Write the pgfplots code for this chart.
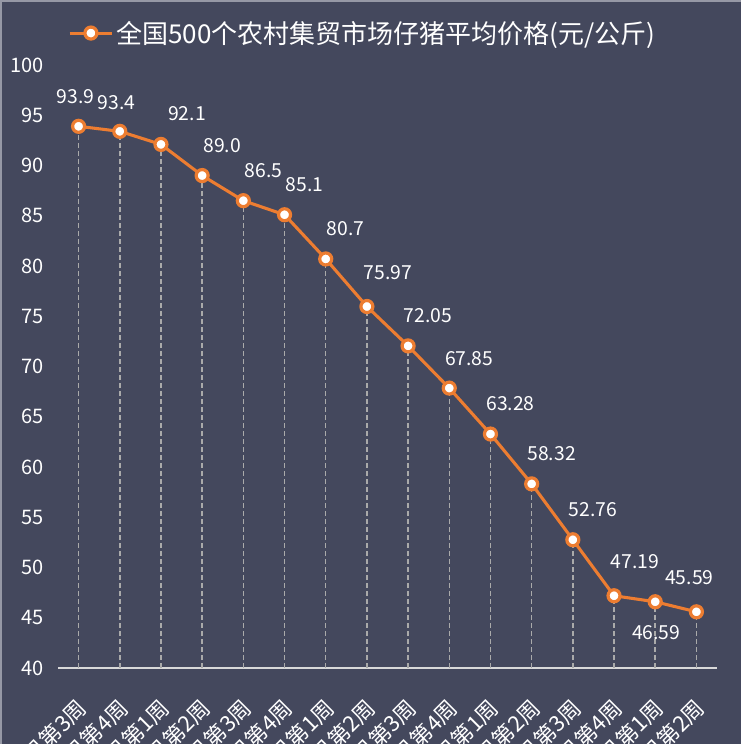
\documentclass[border=0pt]{standalone}
\usepackage{fontspec}
\setmainfont{Noto Sans CJK SC}
\usepackage{pgfplots}
\pgfplotsset{compat=1.18}

\definecolor{bg}{RGB}{68,72,93}
\definecolor{pork}{RGB}{237,125,49}
\definecolor{dropgray}{RGB}{170,170,170}
\definecolor{axisgray}{RGB}{217,217,217}
\definecolor{edge}{RGB}{150,152,165}

\begin{document}
\begin{tikzpicture}
\fill[bg] (0,0) rectangle (555.75pt,558pt);
\path[use as bounding box] (0,0) rectangle (555.75pt,558pt);
\begin{axis}[%
  at={(43.5pt,57pt)}, anchor=south west,
  scale only axis,
  width=494.25pt, height=452.25pt,
  % x-axis
  xmin=-0.5, xmax=15.5,
  xtick={0,...,15},
  xticklabels={4月第3周,4月第4周,5月第1周,5月第2周,5月第3周,5月第4周,
               6月第1周,6月第2周,6月第3周,6月第4周,7月第1周,7月第2周,
               7月第3周,7月第4周,8月第1周,8月第2周},
  xticklabel style={rotate=45, anchor=east, inner sep=0pt,
                    xshift=-16.5pt, yshift=-21pt,
                    font=\fontsize{16.5}{19}\selectfont},
  % y-axis
  ymin=40, ymax=100,
  ytick={40,45,...,100},
  yticklabel style={anchor=east, inner sep=0pt, xshift=-10.5pt,
                    font=\fontsize{15}{18}\selectfont},
  /pgf/number format/assume math mode=true,
  ticklabel style={text=white},
  major tick length=0pt,
  axis x line*=bottom, axis y line*=left,
  x axis line style={draw=axisgray, line width=1.5pt},
  y axis line style={draw=none},
  % legend
  legend style={at={(0.463,1.053)}, anchor=center, draw=none, fill=none,
                text=white, font=\fontsize{19.5}{23}\selectfont},
  legend image code/.code={\draw[mark repeat=2, mark phase=2, #1]
      plot coordinates {(0pt,0pt) (16pt,0pt) (32pt,0pt)};},
  % data labels: offset in px from the point
  lbl/.style 2 args={draw=none, no markers, forget plot,
      nodes near coords, point meta=explicit symbolic,
      every node near coord/.append style={anchor=center, text=white,
        font=\fontsize{14.5}{17}\selectfont,
        xshift=#1*0.75pt, yshift=#2*0.75pt}},
  ]

  \tikzstyle{plot_drop}=[color=dropgray, line width=1.1pt,
                         dash pattern=on 4pt off 2pt, ycomb, no markers]
  \tikzstyle{plot_price}=[color=pork, line width=2.3pt, mark=*, mark size=4.5pt,
                          mark options={fill=white, draw=pork, line width=2.4pt}]

  \addplot [style=plot_drop, forget plot] coordinates {
    (0,93.9) (1,93.4) (2,92.1) (3,89.0) (4,86.5) (5,85.1) (6,80.7) (7,75.97)
    (8,72.05) (9,67.85) (10,63.28) (11,58.32) (12,52.76) (13,47.19)
    (14,46.59) (15,45.59)
  };

  \addplot [style=plot_price] coordinates {
    (0,93.9) (1,93.4) (2,92.1) (3,89.0) (4,86.5) (5,85.1) (6,80.7) (7,75.97)
    (8,72.05) (9,67.85) (10,63.28) (11,58.32) (12,52.76) (13,47.19)
    (14,46.59) (15,45.59)
  };
  \addlegendentry{全国500个农村集贸市场仔猪平均价格(元/公斤)}

  \addplot [lbl={-3}{30}] coordinates {(0,93.9) [93.9]};
  \addplot [lbl={-3}{29}] coordinates {(1,93.4) [93.4]};
  \addplot [lbl={26}{31}] coordinates {(2,92.1) [92.1]};
  \addplot [lbl={20}{30}] coordinates {
    (3,89.0) [89.0] (4,86.5) [86.5] (5,85.1) [85.1] (6,80.7) [80.7]
    (8,72.05) [72.05] (9,67.85) [67.85] (10,63.28) [63.28]
    (11,58.32) [58.32] (12,52.76) [52.76]
  };
  \addplot [lbl={21}{34}] coordinates {(7,75.97) [75.97] (13,47.19) [47.19]};
  \addplot [lbl={1}{-31}] coordinates {(14,46.59) [46.59]};
  \addplot [lbl={-7}{34}] coordinates {(15,45.59) [45.59]};
\end{axis}
\draw[edge, line width=1.5pt] (0.75pt,0pt) -- (0.75pt,558pt);
\draw[edge, line width=1.2pt] (0pt,557.4pt) -- (555.75pt,557.4pt);
\end{tikzpicture}
\end{document}
